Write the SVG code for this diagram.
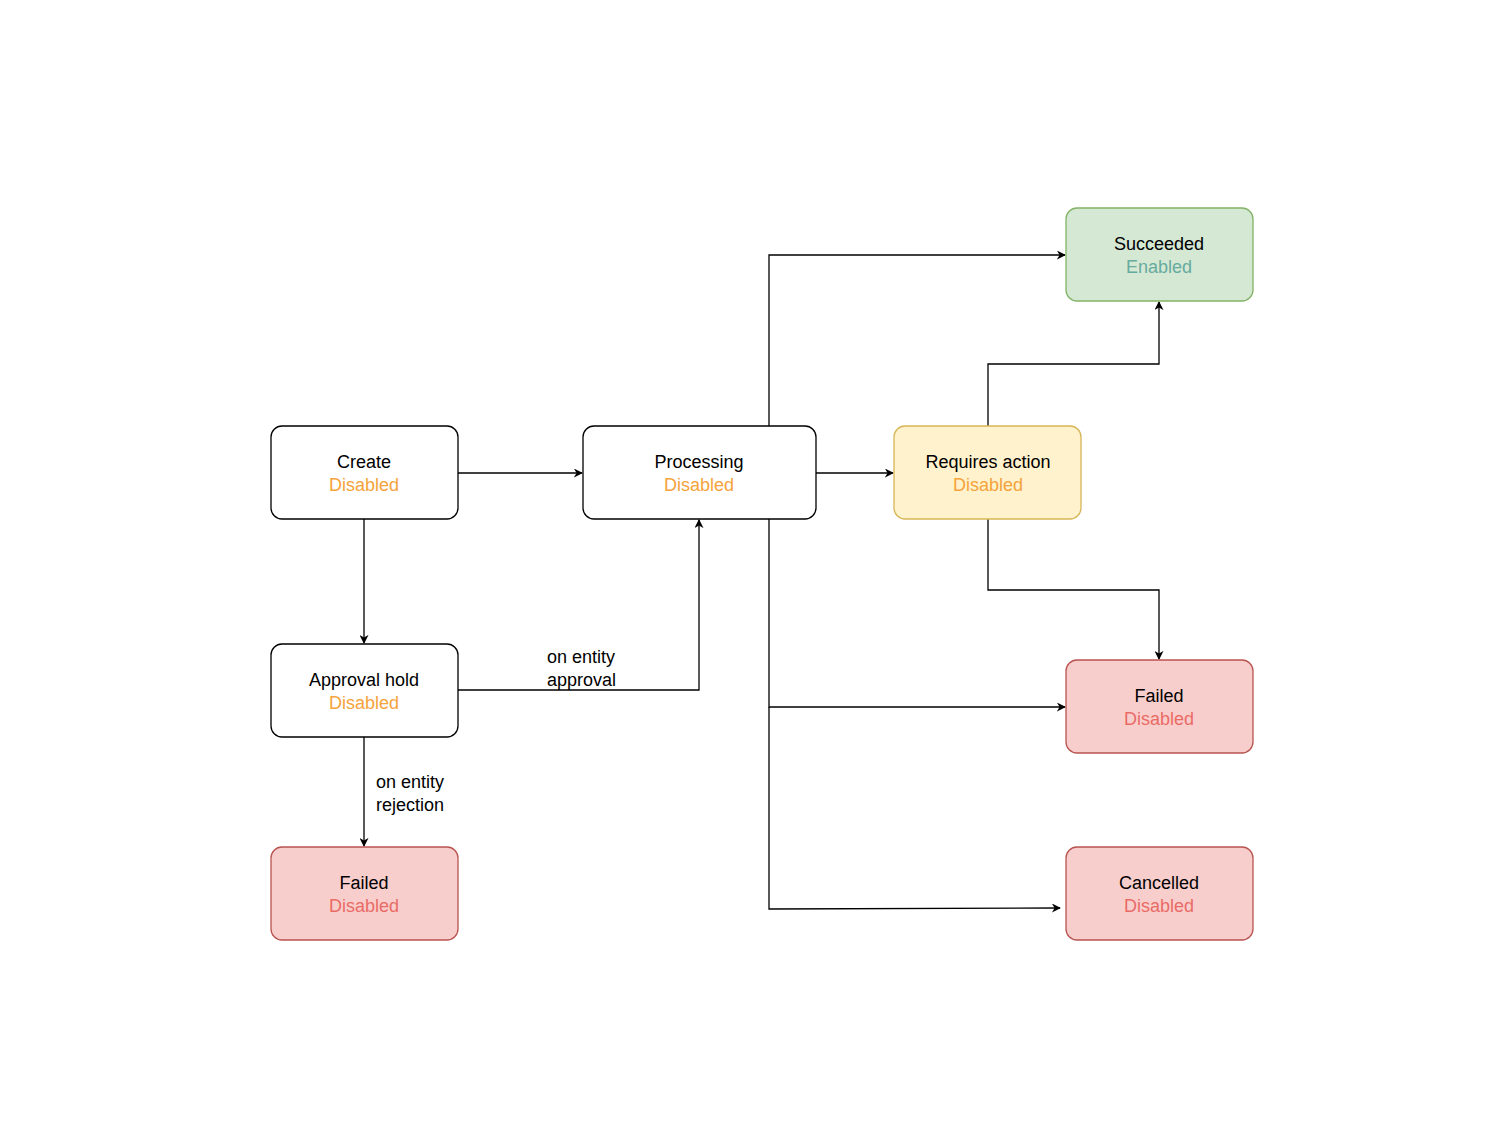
<svg xmlns="http://www.w3.org/2000/svg" width="1500" height="1146" viewBox="0 0 1500 1146">
<style>
text{font-family:"Liberation Sans",Arial,sans-serif;font-size:18px;text-anchor:middle;fill:#000}
.l{text-anchor:start}
.o{fill:#F5A33B}.g{fill:#67AB9F}.r{fill:#EA6B66}
.w{fill:#fff;stroke:#000;stroke-width:1.3}
.gn{fill:#d5e8d4;stroke:#82b366;stroke-width:1.3}
.y{fill:#fff2cc;stroke:#d6b656;stroke-width:1.3}
.rd{fill:#f8cecc;stroke:#b85450;stroke-width:1.3}
.c path{fill:none;stroke:#000;stroke-width:1.3;marker-end:url(#a)}
</style>
<defs><marker id="a" viewBox="0 0 10 10" refX="9" refY="5" markerWidth="9" markerHeight="9" orient="auto" markerUnits="userSpaceOnUse"><path d="M0,0L10,5L0,10L3,5z" fill="#000"/></marker></defs>
<rect width="1500" height="1146" fill="#fff"/>
<g class="c">
<path d="M458,473H582"/>
<path d="M816,473H893"/>
<path d="M364,519V643"/>
<path d="M458,690H699V520"/>
<path d="M364,737V846"/>
<path d="M769,426V255H1065"/>
<path d="M988,426V364H1159V302"/>
<path d="M988,519V590H1159V659"/>
<path d="M769,519V707H1065"/>
<path d="M769,707V909L1060,908"/>
</g>
<g id="lbl"><text class="l" x="547" y="663">on entity</text><text class="l" x="547" y="686">approval</text>
<text class="l" x="376" y="788">on entity</text><text class="l" x="376" y="811">rejection</text></g>
<g id="create"><rect class="w" x="271" y="426" width="187" height="93" rx="11"/><text x="364" y="468">Create</text><text class="o" x="364" y="491">Disabled</text></g>
<g id="processing"><rect class="w" x="583" y="426" width="233" height="93" rx="11"/><text x="699" y="468">Processing</text><text class="o" x="699" y="491">Disabled</text></g>
<g id="requires"><rect class="y" x="894" y="426" width="187" height="93" rx="11"/><text x="988" y="468">Requires action</text><text class="o" x="988" y="491">Disabled</text></g>
<g id="succeeded"><rect class="gn" x="1066" y="208" width="187" height="93" rx="11"/><text x="1159" y="250">Succeeded</text><text class="g" x="1159" y="273">Enabled</text></g>
<g id="approval"><rect class="w" x="271" y="644" width="187" height="93" rx="11"/><text x="364" y="686">Approval hold</text><text class="o" x="364" y="709">Disabled</text></g>
<g id="failed1"><rect class="rd" x="271" y="847" width="187" height="93" rx="11"/><text x="364" y="889">Failed</text><text class="r" x="364" y="912">Disabled</text></g>
<g id="failed2"><rect class="rd" x="1066" y="660" width="187" height="93" rx="11"/><text x="1159" y="702">Failed</text><text class="r" x="1159" y="725">Disabled</text></g>
<g id="cancelled"><rect class="rd" x="1066" y="847" width="187" height="93" rx="11"/><text x="1159" y="889">Cancelled</text><text class="r" x="1159" y="912">Disabled</text></g>
</svg>
